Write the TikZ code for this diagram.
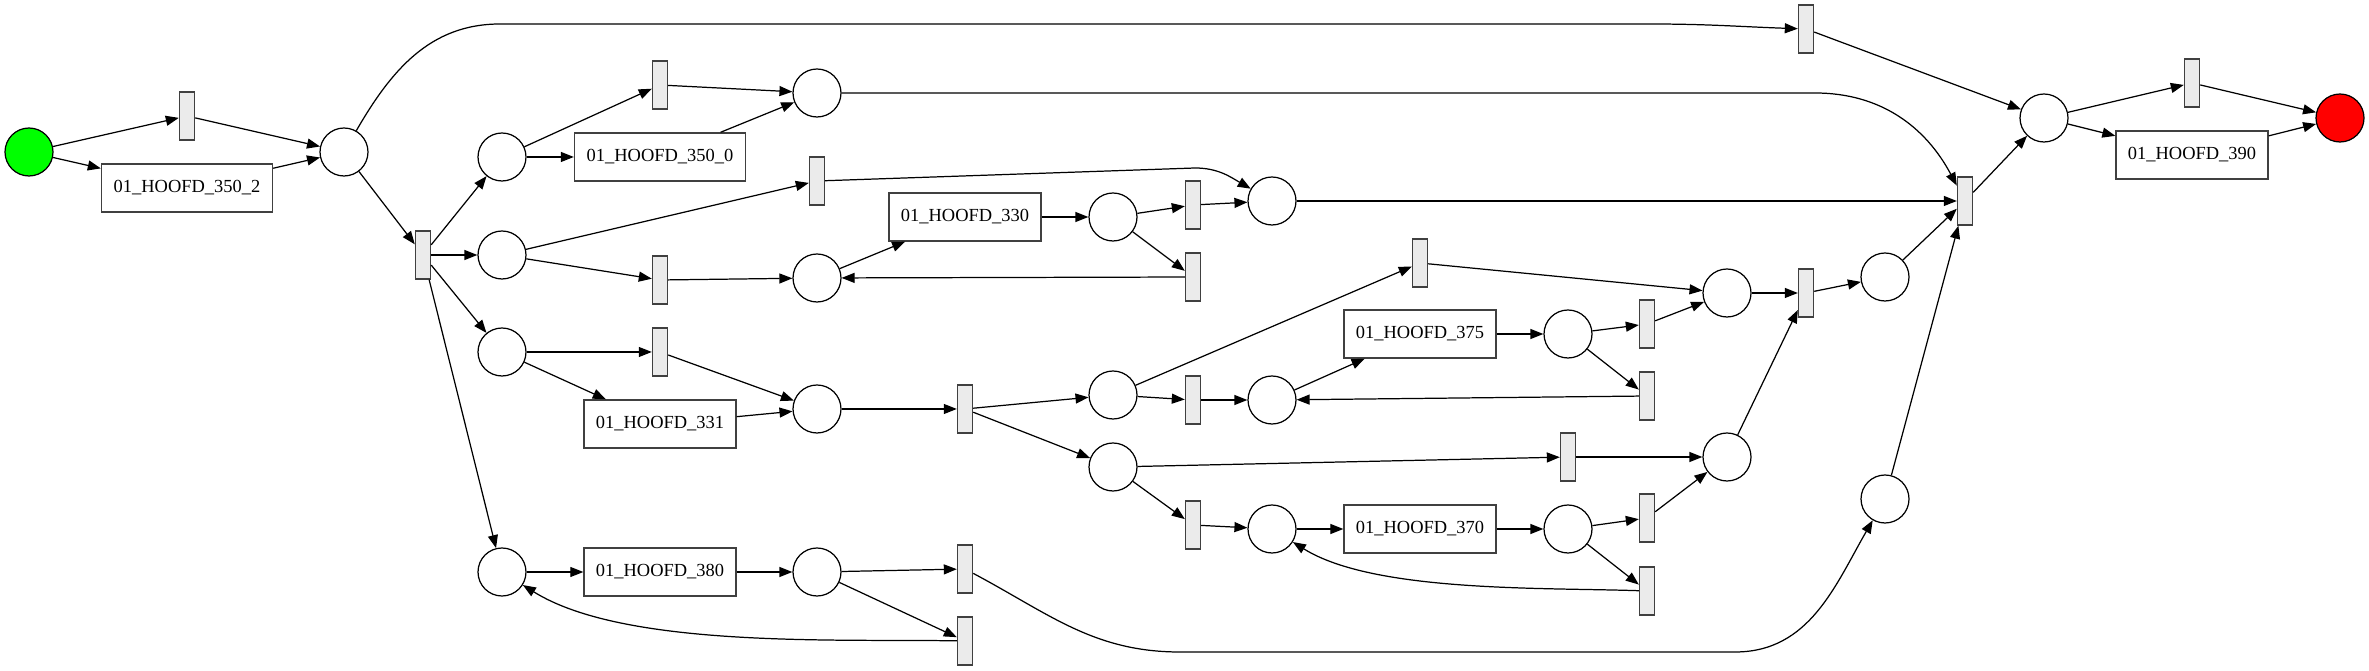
\documentclass[tikz,border=0pt]{standalone}
\usepackage{fontspec}
\setmainfont{Liberation Serif}
\usetikzlibrary{arrows.meta}
\definecolor{startgreen}{RGB}{0,255,0}
\definecolor{endred}{RGB}{255,0,0}
\definecolor{transgray}{RGB}{235,235,235}

\begin{document}
\begin{tikzpicture}[x=0.02cm,y=-0.02cm,
  place/.style={circle,draw,line width=0.7pt,minimum size=0.96cm,inner sep=0pt},
  trans/.style={rectangle,draw=black!75,fill=transgray,line width=0.8pt,
    minimum width=0.3cm,minimum height=0.96cm,inner sep=0pt},
  task/.style={rectangle,draw=black!75,line width=0.8pt,minimum width=3.04cm,
    minimum height=0.96cm,inner sep=0pt,font=\fontsize{10.5}{12}\selectfont},
  arc/.style={-{Triangle[length=2.6mm,width=2mm]},line width=0.7pt}]
\useasboundingbox (0,0) rectangle (2369,671);
% source and sink
\node[place,fill=startgreen] (start) at (29,152) {};
\node[place,fill=endred] (end) at (2340,118) {};
% places  (px, y downwards)
\foreach \n/\x/\y in {p1/344/152, pA/502/157, pC/502/255, pG/502/352, pK/502/572,
                      pB/817/93, pD/817/278, pH/817/409, pL/817/572,
                      pE/1113/217, pI/1113/395, pJ/1113/467,
                      pF/1272/201, pR/1272/400, pT/1272/529,
                      pP/1568/334, pU/1568/529, pN/1727/293, pS/1727/457,
                      pO/1885/277, pQ/1885/499, pX/2044/118}{
  \node[place] (\n) at (\x,\y) {};}
% silent transitions
\foreach \n/\x/\y in {t1/187/116, t2/423/255, tA1/660/85, tC1/817/181, tC2/660/280,
                      tG1/660/352, tH/965/409, tL1/965/569, tL2/965/641,
                      tE1/1193/205, tE2/1193/277, tI1/1193/400, tJ1/1193/525,
                      tM/1420/263, tS/1568/457, tP1/1647/324, tP2/1647/396,
                      tU1/1647/518, tU2/1647/591, tN/1806/293, tW/1806/29,
                      tV/1965/201, tY/2192/83}{
  \node[trans] (\n) at (\x,\y) {};}
% labelled transitions
\node[task,minimum width=3.42cm] (b3502) at (187,188) {01\_HOOFD\_350\_2};
\node[task,minimum width=3.42cm] (b3500) at (660,157) {01\_HOOFD\_350\_0};
\node[task] (b330) at (965,217) {01\_HOOFD\_330};
\node[task] (b331) at (660,424) {01\_HOOFD\_331};
\node[task] (b380) at (660,572) {01\_HOOFD\_380};
\node[task] (b375) at (1420,334) {01\_HOOFD\_375};
\node[task] (b370) at (1420,529) {01\_HOOFD\_370};
\node[task] (b390) at (2192,155) {01\_HOOFD\_390};
% straight arcs
\foreach \a/\b in {start/t1, start/b3502, t1/p1, b3502/p1, p1/t2,
                   t2/pA, t2/pC, t2/pG, t2/pK,
                   pA/tA1, pA/b3500, tA1/pB, b3500/pB,
                   pC/tC1, pC/tC2, tC2/pD, pD/b330, b330/pE, pE/tE1, pE/tE2,
                   tE1/pF, tE2/pD,
                   pG/tG1, pG/b331, tG1/pH, b331/pH, pH/tH, tH/pI, tH/pJ,
                   pI/tM, pI/tI1, tM/pN, tI1/pR, pR/b375, b375/pP, pP/tP1, pP/tP2,
                   tP1/pN, tP2/pR,
                   pJ/tS, pJ/tJ1, tS/pS, tJ1/pT, pT/b370, b370/pU, pU/tU1, pU/tU2,
                   tU1/pS, pS/tN, pN/tN, tN/pO, pO/tV, pQ/tV, pF/tV,
                   pK/b380, b380/pL, pL/tL1, pL/tL2,
                   tV/pX, tW/pX, pX/tY, pX/b390, tY/end, b390/end}{
  \draw[arc] (\a) -- (\b);}
% long bent arcs
\coordinate (topL) at (500,24);
\coordinate (topR) at (1650,24);
\draw[arc] (p1) to[out=60,in=180] (topL) -- (topR) to[out=0,in=178] (tW);
\coordinate (bendB) at (1815,93);
\draw[arc] (pB) -- (bendB) to[out=0,in=118] (tV);
\coordinate (bendC) at (1195,168);
\draw[arc] (tC1) -- (bendC) to[out=0,in=150] (pF);
\coordinate (botL) at (1180,652);
\coordinate (botR) at (1735,652);
\draw[arc] (tL1) to[out=-28,in=180] (botL) -- (botR) to[out=0,in=240] (pQ);
% loops back
\draw[arc] (tL2) to[out=179,in=-32,looseness=0.7] (pK);
\draw[arc] (tU2) to[out=178,in=-32,looseness=0.7] (pT);
\end{tikzpicture}
\end{document}
